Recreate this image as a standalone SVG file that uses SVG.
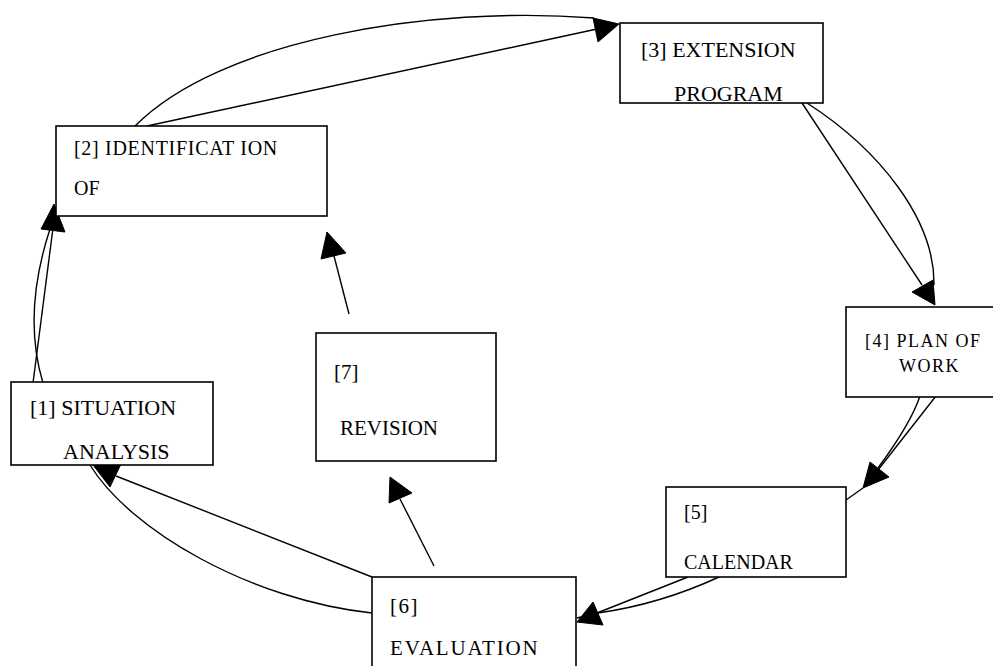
<svg xmlns="http://www.w3.org/2000/svg" width="993" height="666" viewBox="0 0 993 666">
<style>
.box{fill:#fff;stroke:#000;stroke-width:1.6}
.ln{fill:none;stroke:#000;stroke-width:1.4}
.ah{fill:#000;stroke:#000;stroke-width:1}
text{font-family:"Liberation Serif","Times New Roman","DejaVu Serif",serif;fill:#000}
</style>
<rect width="993" height="666" fill="#fff"/>
<g id="connectors">
  <!-- 2 -> 3 -->
  <path class="ln" d="M135,126 C220,40 430,5 594,18"/>
  <path class="ln" d="M147,126 L597,29"/>
  <polygon class="ah" points="619,24 593,18 598,42"/>
  <!-- 3 -> 4 -->
  <path class="ln" d="M807,103 C880,150 935,220 934,285"/>
  <path class="ln" d="M802,103 L922,285"/>
  <polygon class="ah" points="935,305 912,292 933,280"/>
  <!-- 4 -> 5 -->
  <path class="ln" d="M920,396 C912,420 895,445 878,468"/>
  <path class="ln" d="M936,396 L878,470"/>
  <polygon class="ah" points="863,488 870,462 889,477"/>
  <path class="ln" d="M863,488 L846,500"/>
  <!-- 5 -> 6 -->
  <path class="ln" d="M688,577 L597,613"/>
  <path class="ln" d="M719,577 C680,595 640,607 598,613"/>
  <polygon class="ah" points="577,622 593,602 603,625"/>
  <path class="ln" d="M577,618 L597,613"/>
  <!-- 6 -> 1 -->
  <path class="ln" d="M372,577 L116,476"/>
  <path class="ln" d="M372,613 C250,600 130,530 90,465"/>
  <polygon class="ah" points="93,465 110,487 121,464"/>
  <!-- 1 -> 2 -->
  <path class="ln" d="M33,383 L53,228"/>
  <path class="ln" d="M43,383 C30,340 30,290 50,229"/>
  <polygon class="ah" points="54,204 41,229 65,232"/>
  <!-- 6 -> 7 -->
  <path class="ln" d="M434,566 L400,499"/>
  <polygon class="ah" points="390,477 389,503 412,493"/>
  <!-- 7 -> 2 -->
  <path class="ln" d="M349,314 L334,256"/>
  <polygon class="ah" points="327,232 321,259 346,253"/>
</g>
<g id="node1">
  <rect class="box" x="11" y="382" width="202" height="83"/>
  <text x="30" y="415" font-size="22">[1] SITUATION</text>
  <text x="63" y="459" font-size="22">ANALYSIS</text>
</g>
<g id="node2">
  <rect class="box" x="56" y="126" width="271" height="90"/>
  <text x="74" y="155" font-size="20" letter-spacing="0.7">[2] IDENTIFICAT ION</text>
  <text x="74" y="195" font-size="20">OF</text>
</g>
<g id="node3">
  <rect class="box" x="620" y="23" width="203" height="80"/>
  <text x="641" y="57" font-size="22">[3] EXTENSION</text>
  <text x="674" y="101" font-size="22">PROGRAM</text>
</g>
<g id="node4">
  <rect class="box" x="846" y="307" width="160" height="90"/>
  <text x="865" y="347" font-size="18" letter-spacing="1.5">[4] PLAN OF</text>
  <text x="899" y="372" font-size="18" letter-spacing="1.5">WORK</text>
</g>
<g id="node5">
  <rect class="box" x="666" y="487" width="180" height="90"/>
  <text x="684" y="519" font-size="20">[5]</text>
  <text x="684" y="569" font-size="20">CALENDAR</text>
</g>
<g id="node6">
  <rect class="box" x="372" y="577" width="204" height="100"/>
  <text x="390" y="613" font-size="21" letter-spacing="1.5">[6]</text>
  <text x="390" y="655" font-size="21" letter-spacing="1.8">EVALUATION</text>
</g>
<g id="node7">
  <rect class="box" x="316" y="333" width="180" height="128"/>
  <text x="334" y="379" font-size="21">[7]</text>
  <text x="340" y="435" font-size="21">REVISION</text>
</g>
</svg>
